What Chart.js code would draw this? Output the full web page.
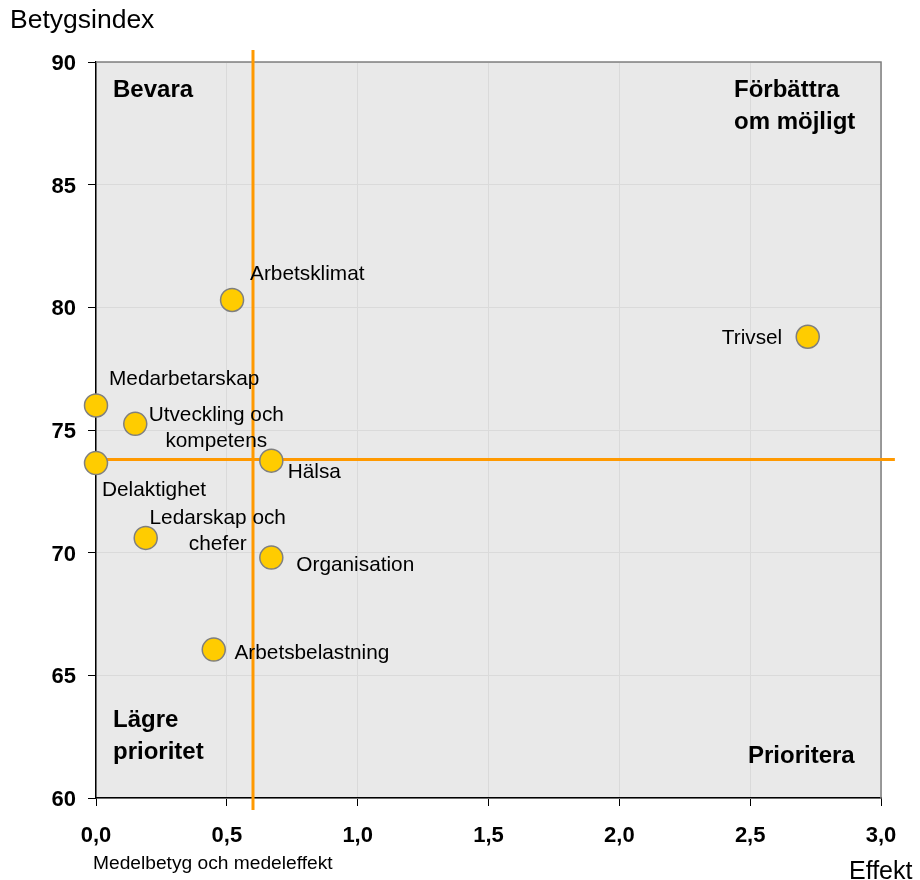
<!DOCTYPE html>
<html>
<head>
<meta charset="utf-8">
<script src="https://cdn.jsdelivr.net/npm/chart.js@4.4.1/dist/chart.umd.min.js"></script>
<style>
  html, body { margin: 0; padding: 0; background: #ffffff; }
  #wrap { width: 920px; height: 880px; position: relative; }
</style>
</head>
<body>
<div id="wrap"><canvas id="chart"></canvas></div>
<script>
// Areas of the survey: effect on the overall index (x) and grade index (y)
const categories = [
  'Arbetsklimat',
  'Trivsel',
  'Medarbetarskap',
  ['Utveckling och', 'kompetens'],
  'Delaktighet',
  'Hälsa',
  ['Ledarskap och', 'chefer'],
  'Organisation',
  'Arbetsbelastning'
];
const effekt      = [0.52, 2.72, 0.00, 0.15, 0.00, 0.67, 0.19, 0.67, 0.45];
const betygsindex = [80.3, 78.8, 76.0, 75.25, 73.65, 73.75, 70.6, 69.8, 66.05];

// Average grade and average effect (the quadrant dividers)
const medeleffekt = 0.6;
const medelbetyg  = 73.8;

const xTickLabels = ['0,0', '0,5', '1,0', '1,5', '2,0', '2,5', '3,0'];
const yTickLabels = ['60', '65', '70', '75', '80', '85', '90'];

const quadrantNames = {
  topLeft: ['Bevara'],
  topRight: ['Förbättra', 'om möjligt'],
  bottomLeft: ['Lägre', 'prioritet'],
  bottomRight: ['Prioritera']
};

const FONT = '"Liberation Sans", Arial, Helvetica, sans-serif';
const ORANGE = '#FF9900';

// Where each point's name sits relative to its marker (first baseline)
const labelPlacement = [
  { dx: 18,    dy: -20,  align: 'left' },
  { dx: -25.5, dy: 7,    align: 'right' },
  { dx: 13,    dy: -20,  align: 'left' },
  { dx: 81,    dy: -2.4, align: 'center' },
  { dx: 6,     dy: 32.4, align: 'left' },
  { dx: 16.4,  dy: 17,   align: 'left' },
  { dx: 72,    dy: -13.7,align: 'center' },
  { dx: 25,    dy: 13.7, align: 'left' },
  { dx: 20.7,  dy: 9,    align: 'left' }
];

const points = effekt.map((x, i) => ({ x: x, y: betygsindex[i] }));

const frame = {
  id: 'frame',
  beforeDraw(chart) {
    const { ctx, chartArea: a } = chart;
    ctx.save();
    ctx.fillStyle = '#ffffff';
    ctx.fillRect(0, 0, chart.width, chart.height);
    ctx.fillStyle = '#E9E9E9';
    ctx.fillRect(a.left, a.top, a.right - a.left, a.bottom - a.top);
    ctx.restore();
  },
  beforeDatasetsDraw(chart) {
    const { ctx, chartArea: a } = chart;
    ctx.save();
    ctx.strokeStyle = '#808080';
    ctx.lineWidth = 1.5;
    ctx.beginPath();
    ctx.moveTo(a.left, a.top);
    ctx.lineTo(a.right, a.top);
    ctx.lineTo(a.right, a.bottom);
    ctx.stroke();
    ctx.restore();
  },
  afterDatasetsDraw(chart) {
    const { ctx, chartArea: a } = chart;
    const meta = chart.getDatasetMeta(2);
    ctx.save();
    ctx.fillStyle = '#000000';

    // point names
    ctx.font = '20.8px ' + FONT;
    ctx.textBaseline = 'alphabetic';
    meta.data.forEach((el, i) => {
      const p = labelPlacement[i];
      const lines = [].concat(categories[i]);
      ctx.textAlign = p.align;
      lines.forEach((t, k) => ctx.fillText(t, el.x + p.dx, el.y + p.dy + k * 26));
    });

    // quadrant names
    ctx.font = 'bold 24px ' + FONT;
    ctx.textAlign = 'left';
    const drawLines = (lines, x, y) => lines.forEach((t, k) => ctx.fillText(t, x, y + k * 32));
    drawLines(quadrantNames.topLeft, a.left + 17, a.top + 35);
    drawLines(quadrantNames.topRight, a.right - 147, a.top + 35);
    drawLines(quadrantNames.bottomLeft, a.left + 17, a.bottom - 71);
    drawLines(quadrantNames.bottomRight, a.right - 133, a.bottom - 35);

    // axis titles
    ctx.font = '26.5px ' + FONT;
    ctx.fillText('Betygsindex', 10, 28);
    ctx.font = '25px ' + FONT;
    ctx.fillText('Effekt', 849, 879);
    ctx.font = '19.2px ' + FONT;
    ctx.fillText('Medelbetyg och medeleffekt', 93, 869);
    ctx.restore();
  }
};

new Chart(document.getElementById('chart'), {
  type: 'scatter',
  data: {
    datasets: [
      {
        type: 'line',
        data: [{ x: medeleffekt, y: 90.49 }, { x: medeleffekt, y: 59.51 }],
        borderColor: ORANGE,
        borderWidth: 3,
        pointRadius: 0,
        clip: false,
        order: 2
      },
      {
        type: 'line',
        data: [{ x: 0, y: medelbetyg }, { x: 3.053, y: medelbetyg }],
        borderColor: ORANGE,
        borderWidth: 3,
        pointRadius: 0,
        clip: false,
        order: 2
      },
      {
        label: 'Betygsindex',
        data: points,
        backgroundColor: '#FFCC00',
        borderColor: '#7F7F7F',
        borderWidth: 1.5,
        pointRadius: 11.5,
        pointHoverRadius: 11.5,
        clip: false,
        order: 0
      }
    ]
  },
  options: {
    responsive: true,
    maintainAspectRatio: false,
    devicePixelRatio: 1,
    animation: false,
    events: [],
    layout: { padding: { top: 62, right: 39, bottom: 0, left: 0 } },
    plugins: {
      legend: { display: false },
      tooltip: { enabled: false }
    },
    scales: {
      x: {
        type: 'linear',
        min: 0,
        max: 3,
        afterFit(scale) { scale.height = 82; },
        border: { color: '#000000', width: 1.5 },
        grid: { color: '#DADADA', lineWidth: 1, tickColor: '#000000', tickLength: 8 },
        ticks: {
          stepSize: 0.5,
          padding: 17,
          color: '#000000',
          font: { family: FONT, size: 22, weight: 'bold' },
          callback: (v, i) => xTickLabels[i]
        }
      },
      y: {
        type: 'linear',
        min: 60,
        max: 90,
        afterFit(scale) { scale.width = 96; },
        border: { color: '#000000', width: 1.5 },
        grid: { color: '#DADADA', lineWidth: 1, tickColor: '#000000', tickLength: 8 },
        ticks: {
          stepSize: 5,
          padding: 12,
          labelOffset: 2,
          color: '#000000',
          font: { family: FONT, size: 22, weight: 'bold' },
          callback: (v, i) => yTickLabels[i]
        }
      }
    }
  },
  plugins: [frame]
});
</script>
</body>
</html>
